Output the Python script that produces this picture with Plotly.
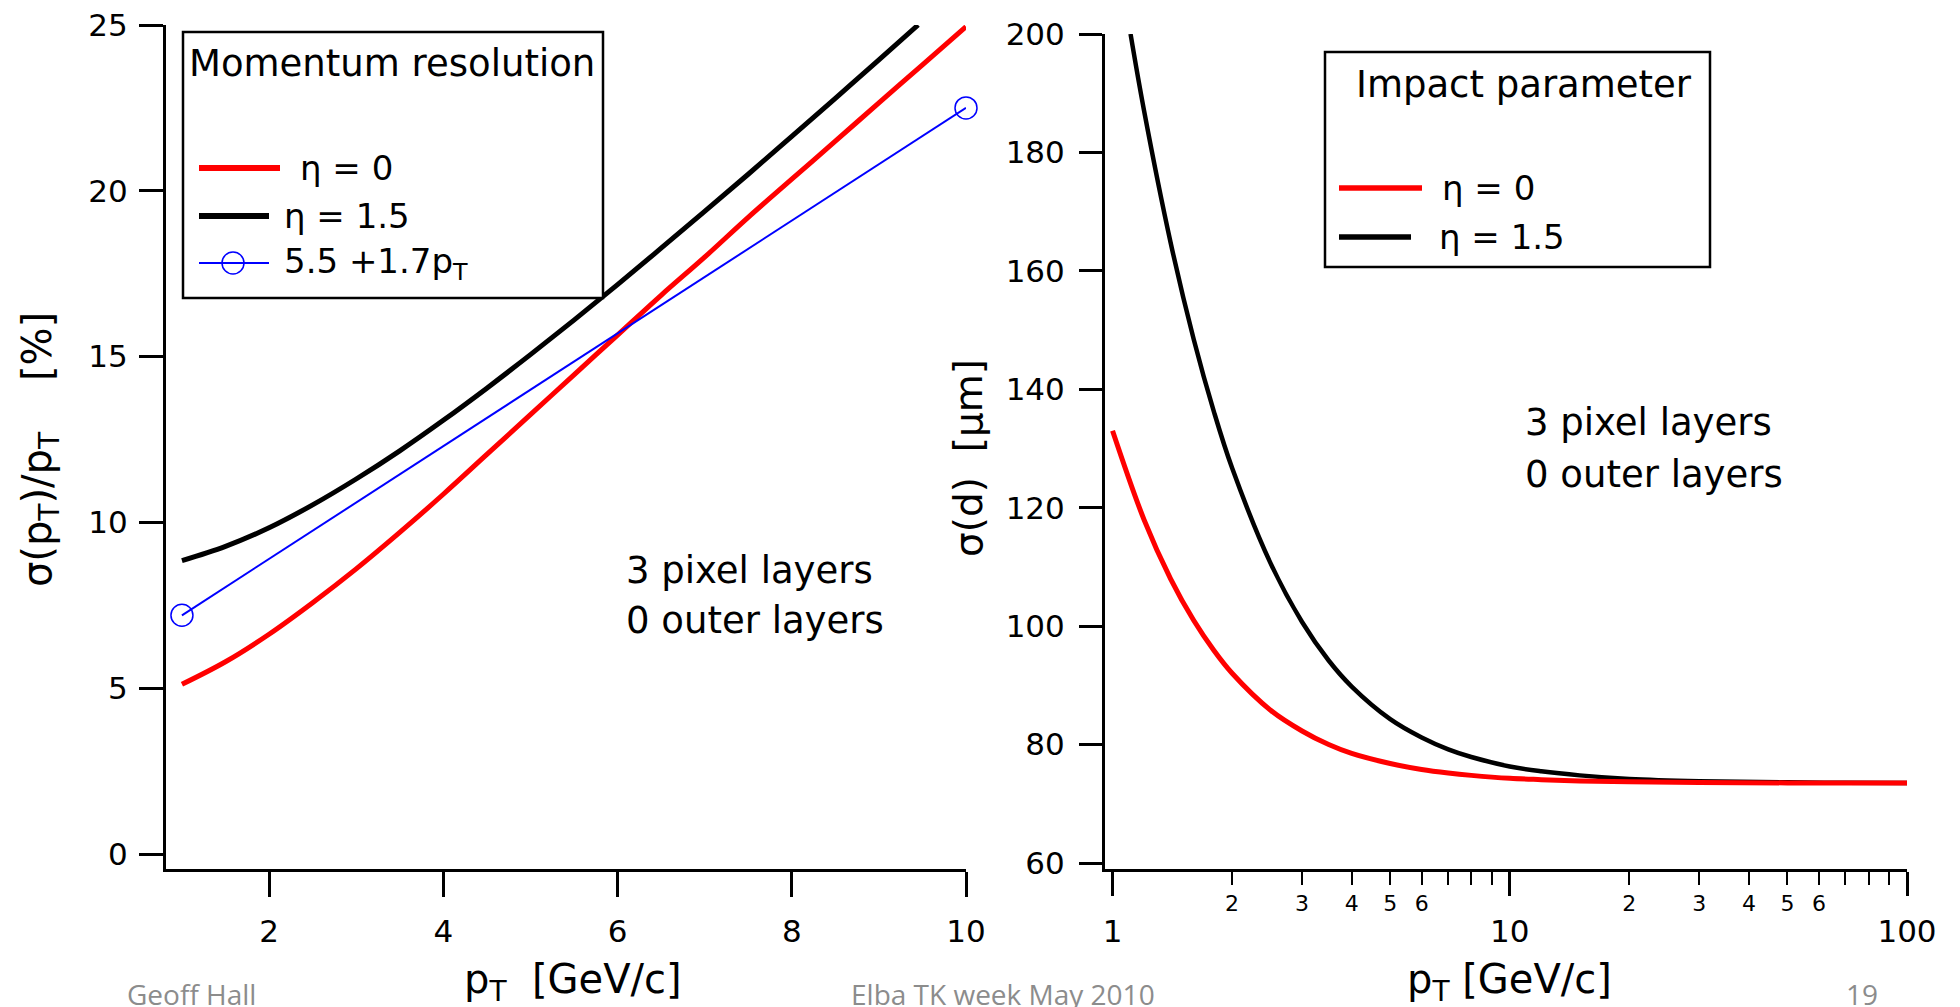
import plotly.graph_objects as go

W, H = 1960, 1007

# ---------------- data ----------------
# Left panel: momentum resolution [%] vs pT [GeV/c]
pt_eta0 = [1, 1.5, 2, 2.5, 3, 3.5, 4, 4.5, 5, 5.5, 6, 6.5, 7, 7.5, 8, 8.5, 9, 9.5, 10]
res_eta0 = [5.12, 5.80, 6.63, 7.58, 8.60, 9.70, 10.85, 12.05, 13.25, 14.45, 15.65,
            16.85, 18.00, 19.20, 20.35, 21.50, 22.65, 23.80, 24.95]
pt_eta15 = [1, 1.5, 2, 2.5, 3, 3.5, 4, 4.5, 5, 5.5, 6, 6.5, 7, 7.5, 8, 8.5, 9, 9.45]
res_eta15 = [8.85, 9.28, 9.84, 10.53, 11.31, 12.16, 13.08, 14.05, 15.06, 16.10, 17.17,
             18.27, 19.38, 20.50, 21.64, 22.79, 23.95, 25.00]
pt_fit = [1, 10]
res_fit = [7.2, 22.5]

# Right panel: impact parameter resolution [um] vs pT [GeV/c]
pt_ip_eta0 = [1, 1.2, 1.4, 1.6, 1.8, 2, 2.5, 3, 3.5, 4, 5, 6, 7, 8, 10, 12, 15, 20, 30, 50, 70, 100]
ip_eta0 = [133.0, 118.0, 108.0, 101.0, 95.9, 92.05, 85.8, 82.3, 80.0, 78.5, 76.8, 75.8,
           75.2, 74.8, 74.3, 74.08, 73.87, 73.71, 73.59, 73.53, 73.51, 73.51]
pt_ip_eta15 = [1.11, 1.2, 1.4, 1.6, 1.8, 2, 2.5, 3, 3.5, 4, 5, 6, 7, 8, 10, 12, 15, 20, 30, 50, 70, 100]
ip_eta15 = [200.0, 187.1, 164.8, 148.5, 136.2, 126.7, 110.6, 100.7, 94.2, 89.8, 84.3, 81.2,
            79.2, 77.9, 76.3, 75.49, 74.8, 74.2, 73.82, 73.62, 73.56, 73.53]

# tick labels
left_x_ticks = [2, 4, 6, 8, 10]
left_y_ticks = [0, 5, 10, 15, 20, 25]
right_y_ticks = [60, 80, 100, 120, 140, 160, 180, 200]
right_x_major = [1, 10, 100]
right_x_minor = [2, 3, 4, 5, 6, 7, 8, 9, 20, 30, 40, 50, 60, 70, 80, 90]
right_x_minor_labelled = [2, 3, 4, 5, 6, 20, 30, 40, 50, 60]
right_x_minor_text = ["2", "3", "4", "5", "6", "2", "3", "4", "5", "6"]

FONT = "DejaVu Sans"
RED = "#ff0000"
BLUE = "#0000ff"


def px(x):
    return x / W


def py(y):
    return 1 - y / H


fig = go.Figure()

fig.add_trace(go.Scatter(x=pt_eta0, y=res_eta0, mode="lines", line=dict(color=RED, width=5, shape="spline"),
                         xaxis="x", yaxis="y", showlegend=False))
fig.add_trace(go.Scatter(x=pt_eta15, y=res_eta15, mode="lines", line=dict(color="black", width=5, shape="spline"),
                         xaxis="x", yaxis="y", showlegend=False))
fig.add_trace(go.Scatter(x=pt_fit, y=res_fit, mode="lines+markers", line=dict(color=BLUE, width=2),
                         marker=dict(symbol="circle-open", size=22, color=BLUE, line=dict(width=1.5, color=BLUE)),
                         cliponaxis=False, xaxis="x", yaxis="y", showlegend=False))

fig.add_trace(go.Scatter(x=pt_ip_eta15, y=ip_eta15, mode="lines", line=dict(color="black", width=4.5, shape="spline"),
                         xaxis="x2", yaxis="y2", showlegend=False))
fig.add_trace(go.Scatter(x=pt_ip_eta0, y=ip_eta0, mode="lines", line=dict(color=RED, width=5, shape="spline"),
                         xaxis="x2", yaxis="y2", showlegend=False))
# dummy trace so the overlay axis carrying the small minor labels is drawn
fig.add_trace(go.Scatter(x=[], y=[], xaxis="x3", yaxis="y2", showlegend=False))

axis_common = dict(showgrid=False, zeroline=False, showline=True, linecolor="black", linewidth=3,
                   ticks="outside", tickcolor="black", tickwidth=2.5, automargin=False,
                   tickfont=dict(family=FONT, size=31, color="black"))

fig.update_layout(
    width=W, height=H, margin=dict(l=0, r=0, t=0, b=0, autoexpand=False),
    paper_bgcolor="white", plot_bgcolor="white",
    font=dict(family=FONT, color="black"),
    xaxis=dict(domain=[px(166), px(966)], anchor="y", range=[0.817, 10],
               tickmode="array", tickvals=left_x_ticks, ticklen=25, ticklabelstandoff=8, **axis_common),
    yaxis=dict(domain=[py(869), py(25)], anchor="x", range=[-0.45, 25],
               tickmode="array", tickvals=left_y_ticks, ticklen=24, ticklabelstandoff=5, **axis_common),
    xaxis2=dict(domain=[px(1105), px(1907)], anchor="y2", type="log", range=[-0.019, 2],
                tickmode="array", tickvals=right_x_major, ticktext=[str(v) for v in right_x_major],
                ticklen=24, ticklabelstandoff=9,
                minor=dict(tickmode="array", tickvals=right_x_minor, ticks="outside", ticklen=13,
                           tickwidth=2, tickcolor="black", showgrid=False),
                **axis_common),
    xaxis3=dict(overlaying="x2", anchor="y2", type="log", range=[-0.019, 2], side="bottom",
                tickmode="array", tickvals=right_x_minor_labelled, ticktext=right_x_minor_text,
                ticks="", showline=False, showgrid=False, zeroline=False, ticklabelstandoff=19,
                automargin=False, tickfont=dict(family=FONT, size=22, color="black")),
    yaxis2=dict(domain=[py(869), py(34)], anchor="x2", range=[58.99, 200],
                tickmode="array", tickvals=right_y_ticks, ticklen=23, ticklabelstandoff=8, **axis_common),
)

shapes = []
annotations = []

# left legend box
shapes.append(dict(type="rect", xref="paper", yref="paper", x0=px(183), x1=px(603), y0=py(298), y1=py(32),
                   fillcolor="white", line=dict(color="black", width=2.5), layer="above"))
shapes.append(dict(type="line", xref="paper", yref="paper", x0=px(199), x1=px(280), y0=py(168), y1=py(168),
                   line=dict(color=RED, width=6), layer="above"))
shapes.append(dict(type="line", xref="paper", yref="paper", x0=px(199), x1=px(269), y0=py(216), y1=py(216),
                   line=dict(color="black", width=6), layer="above"))
shapes.append(dict(type="line", xref="paper", yref="paper", x0=px(199), x1=px(269), y0=py(263), y1=py(263),
                   line=dict(color=BLUE, width=2), layer="above"))
shapes.append(dict(type="circle", xref="paper", yref="paper", x0=px(222), x1=px(244), y0=py(274), y1=py(252),
                   line=dict(color=BLUE, width=1.5), fillcolor="rgba(0,0,0,0)", layer="above"))

# right legend box
shapes.append(dict(type="rect", xref="paper", yref="paper", x0=px(1325), x1=px(1710), y0=py(267), y1=py(52),
                   fillcolor="white", line=dict(color="black", width=2.5), layer="above"))
shapes.append(dict(type="line", xref="paper", yref="paper", x0=px(1339), x1=px(1422), y0=py(188), y1=py(188),
                   line=dict(color=RED, width=5.5), layer="above"))
shapes.append(dict(type="line", xref="paper", yref="paper", x0=px(1339), x1=px(1411), y0=py(237), y1=py(237),
                   line=dict(color="black", width=5.5), layer="above"))


def text(t, x, y, size=35, xanchor="left", color="black", family=FONT, angle=0):
    annotations.append(dict(text=t, xref="paper", yref="paper", x=px(x), y=py(y), xanchor=xanchor,
                            yanchor="middle", showarrow=False, textangle=angle,
                            font=dict(family=family, size=size, color=color)))


text("Momentum resolution", 187, 63, 37)
text("η = 0", 298, 168, 34)
text("η = 1.5", 282, 216, 34)
text("5.5 +1.7p<sub>T</sub>", 282, 263, 34)

text("Impact parameter", 1354, 85, 37)
text("η = 0", 1440, 188, 34)
text("η = 1.5", 1437, 237, 34)

text("3 pixel layers", 624, 570, 37)
text("0 outer layers", 624, 620, 37)
text("3 pixel layers", 1523, 423, 37)
text("0 outer layers", 1523, 474, 37)

# axis titles
text("p<sub>T</sub>  [GeV/c]", 573, 982, 40, xanchor="center")
text("p<sub>T</sub> [GeV/c]", 1509, 982, 40, xanchor="center")
text("σ(p<sub>T</sub>)/p<sub>T</sub>    [%]", 40, 450, 40, xanchor="center", angle=-90)
text("σ(d)  [μm]", 969, 458, 39, xanchor="center", angle=-90)

# footer
GRAY = "#8c8c8c"
text("Geoff Hall", 191, 994, 28, xanchor="center", color=GRAY, family="Open Sans")
text("Elba TK week May 2010", 1003, 994, 28, xanchor="center", color=GRAY, family="Open Sans")
text("19", 1862, 994, 28, xanchor="center", color=GRAY, family="Open Sans")

fig.update_layout(shapes=shapes, annotations=annotations)

fig.write_html("out.html")
